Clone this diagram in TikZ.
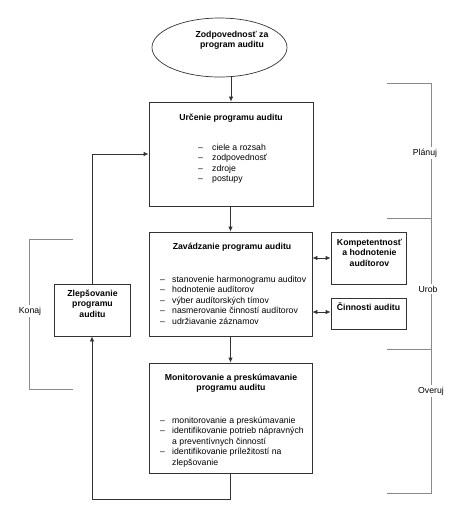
\documentclass[tikz,border=0pt]{standalone}
\usepackage{fontspec}
\setmainfont{Liberation Sans}
\usetikzlibrary{arrows.meta,shapes.geometric}
\definecolor{boxline}{HTML}{333333}
\definecolor{brk}{HTML}{8A8A8A}
\tikzset{
  fs/.style={font=\fontsize{8.7}{10.5}\selectfont},
  boxnode/.style={draw=boxline,line width=0.8pt,rectangle,inner sep=0pt},
  txt/.style={fs,inner sep=0pt,align=center},
  ltxt/.style={fs,inner sep=0pt,align=left,anchor=north west},
  arr/.style={draw=boxline,line width=0.8pt,-{Latex[length=5pt,width=4.5pt]}},
  darr/.style={draw=boxline,line width=0.8pt,{Latex[length=5pt,width=4.5pt]}-{Latex[length=5pt,width=4.5pt]}},
  ln/.style={draw=boxline,line width=0.8pt},
  brline/.style={draw=brk,line width=0.9pt},
  brlabel/.style={fs,fill=white,inner sep=1.5pt},
}
\begin{document}
\begin{tikzpicture}[x=1pt,y=-1pt]
\useasboundingbox (0,0) rectangle (467,520);
% ellipse
\node[draw=boxline,line width=0.7pt,ellipse,minimum width=135pt,minimum height=59pt,inner sep=0pt] (e) at (219.5,47.5) {};
\node[txt,font=\fontsize{8.7}{10.5}\selectfont\bfseries] (et) at (232,40.5) {Zodpovednosť za\\program auditu};
% boxes
\node[boxnode,minimum width=164pt,minimum height=104pt] (b1) at (231,154) {};
\node[boxnode,minimum width=163pt,minimum height=104pt] (b2) at (230.5,284) {};
\node[boxnode,minimum width=163pt,minimum height=110pt] (b3) at (230.5,418) {};
\node[boxnode,minimum width=75pt,minimum height=52pt] (kb) at (368.5,258) {};
\node[boxnode,minimum width=75pt,minimum height=31pt] (cb) at (368.5,313.5) {};
\node[boxnode,minimum width=76pt,minimum height=52pt] (zb) at (92,310) {};
% box texts
\node[txt,font=\fontsize{8.7}{10.5}\selectfont\bfseries] (b1t) at (231,118) {Určenie programu auditu};
\node[ltxt] (b1l) at (198,143.5) {\makebox[14pt][l]{–}ciele a rozsah\\\makebox[14pt][l]{–}zodpovednosť\\\makebox[14pt][l]{–}zdroje\\\makebox[14pt][l]{–}postupy};
\node[txt,font=\fontsize{8.7}{10.5}\selectfont\bfseries] (b2t) at (232,247) {Zavádzanie programu auditu};
\node[ltxt] (b2l) at (160,275.5) {\makebox[12pt][l]{–}stanovenie harmonogramu auditov\\\makebox[12pt][l]{–}hodnotenie audítorov\\\makebox[12pt][l]{–}výber audítorských tímov\\\makebox[12pt][l]{–}nasmerovanie činností audítorov\\\makebox[12pt][l]{–}udržiavanie záznamov};
\node[txt,font=\fontsize{8.7}{10.5}\selectfont\bfseries] (b3t) at (231,383) {Monitorovanie a preskúmavanie\\programu auditu};
\node[ltxt] (b3l) at (160,416.5) {\makebox[12pt][l]{–}monitorovanie a preskúmavanie\\\makebox[12pt][l]{–}identifikovanie potrieb nápravných\\\hspace*{12pt}a preventívnych činností\\\makebox[12pt][l]{–}identifikovanie príležitostí na\\\hspace*{12pt}zlepšovanie};
\node[txt,font=\fontsize{8.7}{10.5}\selectfont\bfseries] (kbt) at (369.5,252.5) {Kompetentnosť\\a hodnotenie\\audítorov};
\node[txt,font=\fontsize{8.7}{10.5}\selectfont\bfseries] (cbt) at (368.5,307) {Činnosti auditu};
\node[txt,font=\fontsize{8.7}{10.5}\selectfont\bfseries] (zbt) at (92.5,303.5) {Zlepšovanie\\programu\\auditu};
% connectors
\draw[arr] (b1.north |- e.south) -- (b1.north);
\draw[arr] (b1.south -| b2.north) -- (b2.north);
\draw[arr] (b2.south) -- (b3.north);
\draw[darr] (b2.east |- kb.west) -- (kb.west);
\draw[darr] (b2.east |- 0,312) -- (cb.west |- 0,312);
\coordinate (lp1) at (230.5,499);
\coordinate (lp2) at (92,499);
\draw[arr] (b3.south) -- (lp1) -- (lp2) -- (zb.south);
\coordinate (up1) at (92,154);
\draw[arr] (zb.north) -- (up1) -- (b1.west);
% right bracket
\coordinate (r1) at (431,83);
\coordinate (r4) at (431,493);
\draw[brline] (387,83) -- (r1) -- (r4) -- (387,493);
\draw[brline] (387,218) -- (431,218);
\draw[brline] (387,349) -- (431,349);
\node[brlabel] (plan) at (425,153) {Plánuj};
\node[brlabel] (urob) at (428,289) {Urob};
\node[brlabel] (over) at (431,391) {Overuj};
% left bracket
\draw[brline] (73,239) -- (29,239) -- (29,389) -- (73,389);
\node[brlabel] (konaj) at (30,311) {Konaj};
\end{tikzpicture}
\end{document}
